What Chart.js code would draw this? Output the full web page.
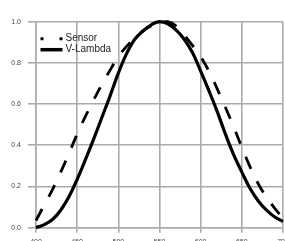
<!DOCTYPE html>
<html>
<head>
<meta charset="utf-8">
<script src="https://cdn.jsdelivr.net/npm/chart.js@4/dist/chart.umd.min.js"></script>
<style>
  html, body { margin: 0; padding: 0; background: #fff; overflow: hidden; }
  #wrap { width: 285px; height: 241px; }
</style>
</head>
<body>
<div id="wrap"><canvas id="myChart"></canvas></div>
<script>
// wavelength (nm) and relative response
let wavelengths = [400, 410, 420, 430, 440, 450, 460, 470, 480, 490, 500, 510, 520, 530, 540, 550,
  560, 570, 580, 590, 600, 610, 620, 630, 640, 650, 660, 670, 680, 690, 700];
let sensor = [0.035, 0.11, 0.185, 0.27, 0.36, 0.455, 0.54, 0.62, 0.695, 0.765, 0.83, 0.88, 0.92, 0.955, 0.98, 0.996,
  1.0, 0.98, 0.935, 0.885, 0.83, 0.76, 0.675, 0.585, 0.49, 0.39, 0.295, 0.213, 0.148, 0.094, 0.045];
let vLambda = [0.0, 0.015, 0.04, 0.085, 0.15, 0.235, 0.33, 0.43, 0.535, 0.64, 0.75, 0.845, 0.915, 0.955, 0.985, 1.0,
  0.99, 0.96, 0.915, 0.85, 0.76, 0.665, 0.565, 0.455, 0.355, 0.27, 0.19, 0.13, 0.085, 0.052, 0.03];
let xTicks = [400, 450, 500, 550, 600, 650, 700];
let yTicks = [0.0, 0.2, 0.4, 0.6, 0.8, 1.0];

function toPoints(values) {
  let pts = [];
  for (let i = 0; i < wavelengths.length; i++) {
    pts.push({ x: wavelengths[i], y: values[i] });
  }
  return pts;
}

const gridColor = "#ababab";
const labelFont = { family: "Liberation Sans, Arial, sans-serif", size: 7 };

// legend drawn inside the plot, top left
const innerLegend = {
  id: "innerLegend",
  afterDraw(chart) {
    const ctx = chart.ctx;
    const sets = chart.data.datasets;
    const x0 = chart.chartArea.left + 4.5;
    let y = chart.chartArea.top + 17;
    ctx.save();
    ctx.font = "10px Liberation Sans, Arial, sans-serif";
    ctx.textBaseline = "middle";
    for (let i = 0; i < sets.length; i++) {
      ctx.strokeStyle = sets[i].borderColor;
      ctx.lineCap = "butt";
      if (i == 0) {
        ctx.lineWidth = 3;
        ctx.setLineDash([3, 16]);
      } else {
        ctx.lineWidth = 3.5;
        ctx.setLineDash([]);
      }
      ctx.beginPath();
      ctx.moveTo(x0, y);
      ctx.lineTo(x0 + 22, y);
      ctx.stroke();
      ctx.fillStyle = "#222";
      ctx.fillText(sets[i].label, x0 + 25, y);
      y += 11;
    }
    ctx.restore();
  },
};

const data = {
  datasets: [
    {
      label: "Sensor",
      data: toPoints(sensor),
      borderColor: "#000",
      borderWidth: 2.8,
      borderDash: [13, 14],
      pointRadius: 0,
      tension: 0.4,
      clip: false,
    },
    {
      label: "V-Lambda",
      data: toPoints(vLambda),
      borderColor: "#000",
      borderWidth: 3.2,
      pointRadius: 0,
      tension: 0.4,
      clip: false,
    },
  ],
};

const config = {
  type: "line",
  data: data,
  options: {
    responsive: false,
    animation: false,
    devicePixelRatio: 1,
    layout: { padding: { top: 21.7, right: 2, bottom: 0, left: 0 } },
    plugins: { legend: { display: false }, tooltip: { enabled: false } },
    scales: {
      x: {
        type: "linear",
        min: 400,
        max: 700,
        afterBuildTicks: (s) => { s.ticks = xTicks.map((v) => ({ value: v })); },
        afterFit: (s) => { s.height = 13.3; s.paddingLeft = 0; s.paddingRight = 0; },
        grid: { color: gridColor, lineWidth: 1.6, tickLength: 5 },
        border: { color: gridColor, width: 1.6 },
        ticks: { font: labelFont, color: "#444", padding: 5, maxRotation: 0, autoSkip: false },
      },
      y: {
        min: 0,
        max: 1,
        afterBuildTicks: (s) => { s.ticks = yTicks.map((v) => ({ value: v })); },
        afterFit: (s) => { s.width = 36; s.paddingTop = 0; s.paddingBottom = 0; },
        grid: { color: gridColor, lineWidth: 1.6, tickLength: 8 },
        border: { color: gridColor, width: 1.6 },
        ticks: {
          font: labelFont,
          color: "#444",
          padding: 7,
          callback: (v) => v.toFixed(1),
        },
      },
    },
  },
  plugins: [innerLegend],
};

const canvas = document.getElementById("myChart");
canvas.width = 285;
canvas.height = 241;
let myChart = new Chart(canvas, config);
</script>
</body>
</html>
